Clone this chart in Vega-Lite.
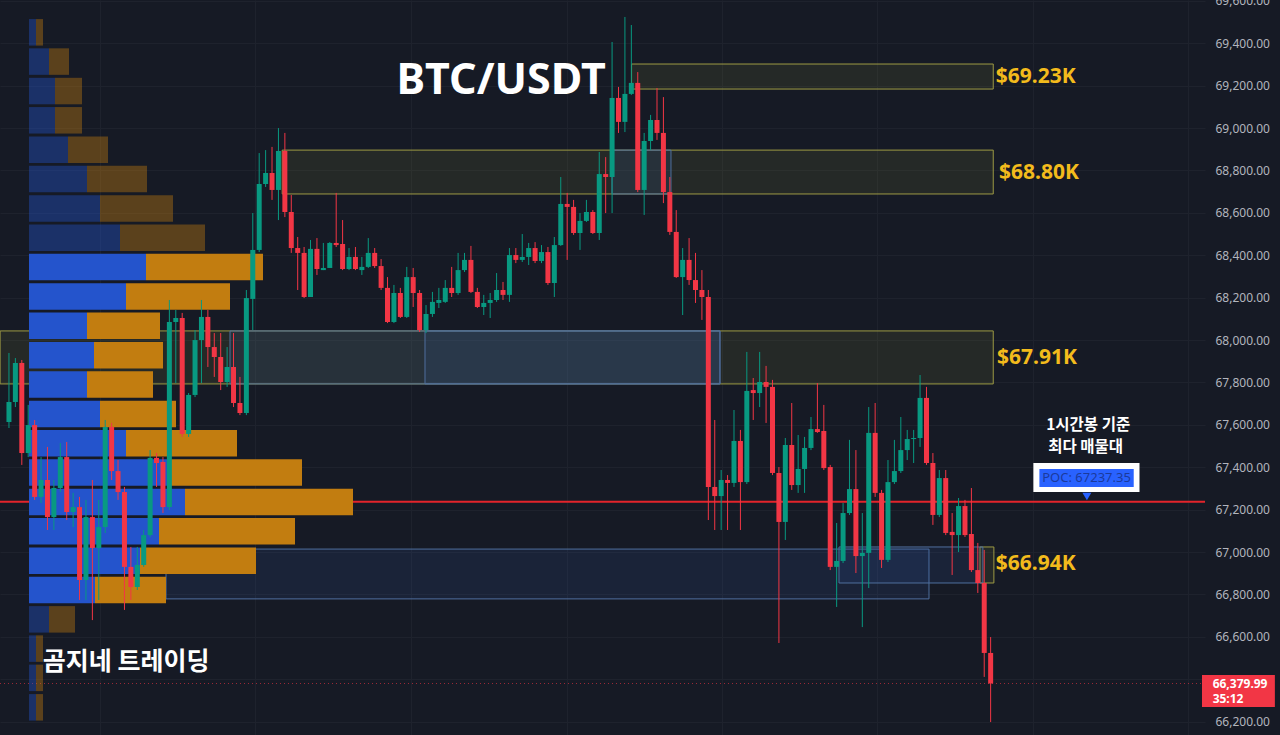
{
  "$schema": "https://vega.github.io/schema/vega-lite/v6.json",
  "width": 1205,
  "height": 735,
  "autosize": {"type": "none"},
  "padding": {"left": 0, "top": 0, "right": 75, "bottom": 0},
  "background": "#161a25",
  "config": {"view": {"stroke": null}, "axis": {"domain": false, "ticks": false, "title": null, "gridColor": "#1e222d"}},
  "datasets": {
    "candles": [
      {"i":0,"o":67613,"h":67939,"l":67585,"c":67708},{"i":1,"o":67708,"h":67915,"l":67684,"c":67892},{"i":2,"o":67892,"h":67906,"l":67411,"c":67467},{"i":3,"o":67467,"h":67694,"l":67448,"c":67599},{"i":4,"o":67599,"h":67623,"l":67246,"c":67260},{"i":5,"o":67260,"h":67448,"l":67231,"c":67340},{"i":6,"o":67340,"h":67496,"l":67104,"c":67165},{"i":7,"o":67165,"h":67340,"l":67104,"c":67302},{"i":8,"o":67302,"h":67514,"l":67283,"c":67448},{"i":9,"o":67448,"h":67519,"l":67151,"c":67189},
      {"i":10,"o":67189,"h":67279,"l":67118,"c":67212},{"i":11,"o":67212,"h":67260,"l":66774,"c":66868},{"i":12,"o":66868,"h":67246,"l":66774,"c":67165},{"i":13,"o":67165,"h":67340,"l":66679,"c":67019},{"i":14,"o":67019,"h":67246,"l":66774,"c":67118},{"i":15,"o":67118,"h":67623,"l":67090,"c":67590},{"i":16,"o":67590,"h":67609,"l":67340,"c":67382},{"i":17,"o":67382,"h":67434,"l":67246,"c":67283},{"i":18,"o":67283,"h":67307,"l":66727,"c":66930},{"i":19,"o":66930,"h":67024,"l":66774,"c":66835},
      {"i":20,"o":66835,"h":67024,"l":66821,"c":66939},{"i":21,"o":66939,"h":67104,"l":66930,"c":67080},{"i":22,"o":67080,"h":67481,"l":67071,"c":67444},{"i":23,"o":67444,"h":67467,"l":67307,"c":67420},{"i":24,"o":67425,"h":67448,"l":67184,"c":67212},{"i":25,"o":67212,"h":68189,"l":67198,"c":68085},{"i":26,"o":68085,"h":68142,"l":67797,"c":68104},{"i":27,"o":68104,"h":68128,"l":67543,"c":67557},{"i":28,"o":67557,"h":67750,"l":67543,"c":67741},{"i":29,"o":67741,"h":68047,"l":67731,"c":68000},
      {"i":30,"o":68000,"h":68189,"l":67797,"c":68109},{"i":31,"o":68109,"h":68142,"l":67873,"c":67967},{"i":32,"o":67967,"h":68033,"l":67826,"c":67920},{"i":33,"o":67920,"h":68033,"l":67764,"c":67802},{"i":34,"o":67802,"h":67967,"l":67779,"c":67873},{"i":35,"o":67873,"h":68033,"l":67684,"c":67703},{"i":36,"o":67703,"h":67826,"l":67646,"c":67656},{"i":37,"o":67656,"h":68236,"l":67646,"c":68198},{"i":38,"o":68194,"h":68599,"l":68047,"c":68425},{"i":39,"o":68425,"h":68882,"l":68415,"c":68736},
      {"i":40,"o":68736,"h":68896,"l":68722,"c":68788},{"i":41,"o":68788,"h":68911,"l":68661,"c":68708},{"i":42,"o":68708,"h":69000,"l":68566,"c":68892},{"i":43,"o":68892,"h":68977,"l":68580,"c":68604},{"i":44,"o":68604,"h":68684,"l":68411,"c":68434},{"i":45,"o":68434,"h":68486,"l":68236,"c":68411},{"i":46,"o":68411,"h":68439,"l":68198,"c":68203},{"i":47,"o":68203,"h":68472,"l":68203,"c":68430},{"i":48,"o":68430,"h":68481,"l":68307,"c":68335},{"i":49,"o":68330,"h":68458,"l":68330,"c":68340},
      {"i":50,"o":68340,"h":68462,"l":68340,"c":68458},{"i":51,"o":68458,"h":68694,"l":68439,"c":68448},{"i":52,"o":68453,"h":68566,"l":68330,"c":68335},{"i":53,"o":68335,"h":68434,"l":68330,"c":68392},{"i":54,"o":68392,"h":68439,"l":68330,"c":68335},{"i":55,"o":68330,"h":68392,"l":68307,"c":68345},{"i":56,"o":68345,"h":68481,"l":68340,"c":68411},{"i":57,"o":68411,"h":68434,"l":68340,"c":68349},{"i":58,"o":68349,"h":68382,"l":68236,"c":68246},{"i":59,"o":68246,"h":68297,"l":68080,"c":68085},
      {"i":60,"o":68085,"h":68260,"l":68080,"c":68222},{"i":61,"o":68222,"h":68246,"l":68104,"c":68109},{"i":62,"o":68109,"h":68345,"l":68104,"c":68297},{"i":63,"o":68297,"h":68340,"l":68156,"c":68222},{"i":64,"o":68222,"h":68236,"l":68038,"c":68047},{"i":65,"o":68047,"h":68165,"l":68033,"c":68123},{"i":66,"o":68123,"h":68227,"l":68109,"c":68180},{"i":67,"o":68175,"h":68246,"l":68151,"c":68189},{"i":68,"o":68180,"h":68283,"l":68175,"c":68246},{"i":69,"o":68246,"h":68345,"l":68203,"c":68222},
      {"i":70,"o":68222,"h":68411,"l":68213,"c":68330},{"i":71,"o":68330,"h":68411,"l":68321,"c":68378},{"i":72,"o":68378,"h":68444,"l":68222,"c":68227},{"i":73,"o":68227,"h":68246,"l":68151,"c":68156},{"i":74,"o":68156,"h":68213,"l":68118,"c":68175},{"i":75,"o":68175,"h":68222,"l":68104,"c":68189},{"i":76,"o":68189,"h":68316,"l":68180,"c":68236},{"i":77,"o":68236,"h":68274,"l":68189,"c":68213},{"i":78,"o":68213,"h":68434,"l":68180,"c":68401},{"i":79,"o":68401,"h":68434,"l":68363,"c":68378},
      {"i":80,"o":68378,"h":68500,"l":68368,"c":68392},{"i":81,"o":68392,"h":68458,"l":68354,"c":68434},{"i":82,"o":68434,"h":68462,"l":68363,"c":68373},{"i":83,"o":68373,"h":68448,"l":68363,"c":68415},{"i":84,"o":68415,"h":68439,"l":68260,"c":68269},{"i":85,"o":68269,"h":68486,"l":68203,"c":68448},{"i":86,"o":68448,"h":68769,"l":68444,"c":68642},{"i":87,"o":68642,"h":68694,"l":68378,"c":68628},{"i":88,"o":68628,"h":68661,"l":68496,"c":68505},{"i":89,"o":68505,"h":68599,"l":68425,"c":68562},
      {"i":90,"o":68562,"h":68661,"l":68557,"c":68604},{"i":91,"o":68604,"h":68613,"l":68500,"c":68505},{"i":92,"o":68505,"h":68887,"l":68472,"c":68783},{"i":93,"o":68783,"h":68863,"l":68599,"c":68769},{"i":94,"o":68769,"h":69406,"l":68599,"c":69142},{"i":95,"o":69142,"h":69194,"l":68977,"c":69029},{"i":96,"o":69029,"h":69524,"l":68981,"c":69161},{"i":97,"o":69161,"h":69486,"l":69156,"c":69213},{"i":98,"o":69213,"h":69264,"l":68698,"c":68708},{"i":99,"o":68708,"h":68977,"l":68590,"c":68939},
      {"i":100,"o":68939,"h":69062,"l":68896,"c":69038},{"i":101,"o":69038,"h":69189,"l":68944,"c":68977},{"i":102,"o":68977,"h":69146,"l":68646,"c":68698},{"i":103,"o":68698,"h":68769,"l":68496,"c":68510},{"i":104,"o":68510,"h":68613,"l":68293,"c":68297},{"i":105,"o":68297,"h":68434,"l":68118,"c":68378},{"i":106,"o":68378,"h":68481,"l":68260,"c":68283},{"i":107,"o":68283,"h":68411,"l":68175,"c":68236},{"i":108,"o":68236,"h":68330,"l":68095,"c":68203},{"i":109,"o":68203,"h":68236,"l":67151,"c":67307},
      {"i":110,"o":67307,"h":67623,"l":67104,"c":67264},{"i":111,"o":67264,"h":67387,"l":67104,"c":67340},{"i":112,"o":67340,"h":67363,"l":67104,"c":67326},{"i":113,"o":67326,"h":67670,"l":67307,"c":67524},{"i":114,"o":67524,"h":67576,"l":67104,"c":67330},{"i":115,"o":67330,"h":67944,"l":67321,"c":67760},{"i":116,"o":67764,"h":67821,"l":67623,"c":67750},{"i":117,"o":67750,"h":67944,"l":67684,"c":67802},{"i":118,"o":67802,"h":67878,"l":67609,"c":67779},{"i":119,"o":67779,"h":67812,"l":67363,"c":67373},
      {"i":120,"o":67373,"h":67401,"l":66571,"c":67142},{"i":121,"o":67142,"h":67538,"l":67057,"c":67505},{"i":122,"o":67505,"h":67703,"l":67293,"c":67316},{"i":123,"o":67316,"h":67552,"l":67279,"c":67392},{"i":124,"o":67392,"h":67543,"l":67279,"c":67491},{"i":125,"o":67491,"h":67637,"l":67481,"c":67580},{"i":126,"o":67580,"h":67797,"l":67562,"c":67566},{"i":127,"o":67571,"h":67694,"l":67387,"c":67396},{"i":128,"o":67401,"h":67411,"l":66915,"c":66930},{"i":129,"o":66930,"h":67137,"l":66741,"c":66958},
      {"i":130,"o":66958,"h":67231,"l":66948,"c":67184},{"i":131,"o":67184,"h":67529,"l":67175,"c":67297},{"i":132,"o":67297,"h":67481,"l":66901,"c":66981},{"i":133,"o":66981,"h":67184,"l":66646,"c":66996},{"i":134,"o":66996,"h":67684,"l":66830,"c":67562},{"i":135,"o":67562,"h":67703,"l":67260,"c":67279},{"i":136,"o":67279,"h":67293,"l":66925,"c":66963},{"i":137,"o":66963,"h":67434,"l":66953,"c":67330},{"i":138,"o":67330,"h":67529,"l":67321,"c":67382},{"i":139,"o":67382,"h":67637,"l":67373,"c":67481},
      {"i":140,"o":67481,"h":67576,"l":67434,"c":67533},{"i":141,"o":67533,"h":67576,"l":67420,"c":67538},{"i":142,"o":67538,"h":67835,"l":67496,"c":67727},{"i":143,"o":67727,"h":67779,"l":67411,"c":67420},{"i":144,"o":67420,"h":67467,"l":67128,"c":67175},{"i":145,"o":67175,"h":67387,"l":67165,"c":67349},{"i":146,"o":67349,"h":67387,"l":67080,"c":67090},{"i":147,"o":67095,"h":67184,"l":66892,"c":67080},{"i":148,"o":67080,"h":67255,"l":67000,"c":67217},{"i":149,"o":67217,"h":67246,"l":67071,"c":67080},
      {"i":150,"o":67085,"h":67302,"l":66906,"c":66915},{"i":151,"o":66915,"h":67043,"l":66807,"c":66854},{"i":152,"o":66854,"h":67010,"l":66411,"c":66524},{"i":153,"o":66524,"h":66599,"l":66198,"c":66379.99}
    ],
    "profile": [
      {"lo":69389,"hi":69514,"buy":7,"total":14,"va":false},
      {"lo":69251,"hi":69376,"buy":20,"total":40,"va":false},
      {"lo":69112,"hi":69237,"buy":26,"total":53,"va":false},
      {"lo":68974,"hi":69099,"buy":26,"total":53,"va":false},
      {"lo":68835,"hi":68960,"buy":39,"total":79,"va":false},
      {"lo":68697,"hi":68822,"buy":58,"total":118,"va":false},
      {"lo":68558,"hi":68683,"buy":71,"total":144,"va":false},
      {"lo":68420,"hi":68545,"buy":91,"total":176,"va":false},
      {"lo":68282,"hi":68407,"buy":117,"total":234,"va":true},
      {"lo":68143,"hi":68268,"buy":97,"total":201,"va":true},
      {"lo":68005,"hi":68130,"buy":58,"total":131,"va":true},
      {"lo":67866,"hi":67991,"buy":65,"total":134,"va":true},
      {"lo":67728,"hi":67853,"buy":58,"total":124,"va":true},
      {"lo":67589,"hi":67714,"buy":71,"total":147,"va":true},
      {"lo":67451,"hi":67576,"buy":97,"total":208,"va":true},
      {"lo":67313,"hi":67438,"buy":139,"total":273,"va":true},
      {"lo":67174,"hi":67299,"buy":156,"total":324,"va":true},
      {"lo":67036,"hi":67161,"buy":130,"total":266,"va":true},
      {"lo":66897,"hi":67022,"buy":111,"total":227,"va":true},
      {"lo":66759,"hi":66884,"buy":66,"total":137,"va":true},
      {"lo":66620,"hi":66745,"buy":20,"total":46,"va":false},
      {"lo":66482,"hi":66607,"buy":7,"total":14,"va":false},
      {"lo":66344,"hi":66469,"buy":7,"total":14,"va":false},
      {"lo":66205,"hi":66330,"buy":7,"total":14,"va":false}
    ],
    "levels": [
      {"x0":97,"x1":152.9,"top":69302,"bot":69184},
      {"x0":43,"x1":152.9,"top":68896,"bot":68689},
      {"x0":-0.6,"x1":152.9,"top":68043,"bot":67793},
      {"x0":150.85,"x1":153.0,"top":67024,"bot":66854}
    ],
    "boxes": [
      {"x0":34.93,"x1":110.66,"top":68043,"bot":67793},
      {"x0":65.07,"x1":110.66,"top":68043,"bot":67793},
      {"x0":25.04,"x1":142.97,"top":67014,"bot":66779},
      {"x0":129.06,"x1":151.3,"top":67024,"bot":66854},
      {"x0":93.97,"x1":103.09,"top":68896,"bot":68689}
    ],
    "levelLabels": [
      {"i":153.8,"p":69241,"t":"$69.23K"},
      {"i":154.3,"p":68788,"t":"$68.80K"},
      {"i":154.0,"p":67915,"t":"$67.91K"},
      {"i":153.8,"p":66944,"t":"$66.94K"}
    ]
  },
  "layer": [
    {
      "layer": [
        {
          "data": {"name": "levels"},
          "mark": {"type": "rect", "fill": "#b5b23a", "fillOpacity": 0.1, "stroke": "#9d9a44", "strokeWidth": 1},
          "encoding": {
            "x": {"field": "x0", "type": "quantitative", "scale": {"domain": [-0.618, 185.63], "nice": false, "zero": false},
                  "axis": {"values": [14.85, 38.85, 62.9, 87, 111, 135, 159, 183], "grid": true, "labels": false}},
            "x2": {"field": "x1"},
            "y": {"field": "top", "type": "quantitative", "scale": {"domain": [66137, 69604], "nice": false, "zero": false},
                  "axis": {"orient": "right", "values": [66200, 66400, 66600, 66800, 67000, 67200, 67400, 67600, 67800, 68000, 68200, 68400, 68600, 68800, 69000, 69200, 69400, 69600],
                           "format": ",.2f", "labelExpr": "datum.value == 66400 ? '' : datum.label", "grid": true,
                           "labelColor": "#b2b5be", "labelFontSize": 12, "labelFont": "Noto Sans", "labelPadding": 10}},
            "y2": {"field": "bot"}
          }
        },
        {
          "data": {"name": "boxes"},
          "mark": {"type": "rect", "fill": "#3a6bc4", "fillOpacity": 0.12, "stroke": "#4f6f9e", "strokeWidth": 1},
          "encoding": {
            "x": {"field": "x0", "type": "quantitative", "scale": {"domain": [-0.618, 185.63], "nice": false, "zero": false}},
            "x2": {"field": "x1"},
            "y": {"field": "top", "type": "quantitative", "scale": {"domain": [66137, 69604], "nice": false, "zero": false}},
            "y2": {"field": "bot"}
          }
        },
        {
          "data": {"values": [{"poc": 67237.35}]},
          "mark": {"type": "rule", "color": "#e3242b", "strokeWidth": 2},
          "encoding": {
            "y": {"field": "poc", "type": "quantitative", "scale": {"domain": [66137, 69604], "nice": false, "zero": false}}
          }
        },
        {
          "data": {"values": [{"last": 66379.99}]},
          "mark": {"type": "rule", "color": "#f23645", "strokeWidth": 1, "strokeDash": [1, 3], "opacity": 0.6},
          "encoding": {
            "y": {"field": "last", "type": "quantitative", "scale": {"domain": [66137, 69604], "nice": false, "zero": false}}
          }
        }
      ]
    },
    {
      "data": {"name": "profile"},
      "layer": [
        {
          "mark": {"type": "rect", "fill": "#2454cc"},
          "encoding": {
            "x": {"field": "buy", "type": "quantitative", "scale": {"domain": [-29, 1176], "nice": false, "zero": false}, "axis": null},
            "x2": {"datum": 0},
            "y": {"field": "lo", "type": "quantitative", "scale": {"domain": [66137, 69604], "nice": false, "zero": false}},
            "y2": {"field": "hi"},
            "opacity": {"condition": {"test": "datum.va", "value": 1}, "value": 0.4}
          }
        },
        {
          "mark": {"type": "rect", "fill": "#c27d10"},
          "encoding": {
            "x": {"field": "buy", "type": "quantitative", "scale": {"domain": [-29, 1176], "nice": false, "zero": false}, "axis": null},
            "x2": {"field": "total"},
            "y": {"field": "lo", "type": "quantitative", "scale": {"domain": [66137, 69604], "nice": false, "zero": false}},
            "y2": {"field": "hi"},
            "opacity": {"condition": {"test": "datum.va", "value": 1}, "value": 0.4}
          }
        }
      ]
    },
    {
      "layer": [
        {
          "data": {"name": "candles"},
          "mark": {"type": "rule", "strokeWidth": 1},
          "encoding": {
            "x": {"field": "i", "type": "quantitative", "scale": {"domain": [-0.618, 185.63], "nice": false, "zero": false}, "axis": null},
            "y": {"field": "l", "type": "quantitative", "scale": {"domain": [66137, 69604], "nice": false, "zero": false}},
            "y2": {"field": "h"},
            "color": {"condition": {"test": "datum.c >= datum.o", "value": "#089981"}, "value": "#f23645"}
          }
        },
        {
          "data": {"name": "candles"},
          "mark": {"type": "bar", "width": 5},
          "encoding": {
            "x": {"field": "i", "type": "quantitative", "scale": {"domain": [-0.618, 185.63], "nice": false, "zero": false}, "axis": null},
            "y": {"field": "o", "type": "quantitative", "scale": {"domain": [66137, 69604], "nice": false, "zero": false}},
            "y2": {"field": "c"},
            "color": {"condition": {"test": "datum.c >= datum.o", "value": "#089981"}, "value": "#f23645"}
          }
        },
        {
          "data": {"name": "levelLabels"},
          "mark": {"type": "text", "align": "left", "baseline": "middle", "font": "Noto Sans", "fontWeight": "bold", "fontSize": 21, "color": "#f3bb1c"},
          "encoding": {
            "x": {"field": "i", "type": "quantitative", "scale": {"domain": [-0.618, 185.63], "nice": false, "zero": false}, "axis": null},
            "y": {"field": "p", "type": "quantitative", "scale": {"domain": [66137, 69604], "nice": false, "zero": false}},
            "text": {"field": "t"}
          }
        },
        {
          "data": {"values": [{"i": 76.7, "p": 69222, "t": "BTC/USDT"}]},
          "mark": {"type": "text", "align": "center", "baseline": "middle", "font": "Noto Sans", "fontWeight": "bold", "fontSize": 43, "color": "#ffffff"},
          "encoding": {
            "x": {"field": "i", "type": "quantitative", "scale": {"domain": [-0.618, 185.63], "nice": false, "zero": false}, "axis": null},
            "y": {"field": "p", "type": "quantitative", "scale": {"domain": [66137, 69604], "nice": false, "zero": false}},
            "text": {"field": "t"}
          }
        },
        {
          "data": {"values": [{"i": 5.26, "p": 66481, "t": "곰지네 트레이딩"}]},
          "mark": {"type": "text", "align": "left", "baseline": "middle", "font": "Noto Sans CJK KR", "fontWeight": "bold", "fontSize": 25, "color": "#ffffff"},
          "encoding": {
            "x": {"field": "i", "type": "quantitative", "scale": {"domain": [-0.618, 185.63], "nice": false, "zero": false}, "axis": null},
            "y": {"field": "p", "type": "quantitative", "scale": {"domain": [66137, 69604], "nice": false, "zero": false}},
            "text": {"field": "t"}
          }
        },
        {
          "data": {"values": [{"i": 168.2, "p": 67599, "t": "1시간봉 기준"}, {"i": 167.8, "p": 67496, "t": "최다 매물대"}]},
          "mark": {"type": "text", "align": "center", "baseline": "middle", "font": "Noto Sans CJK KR", "fontWeight": "bold", "fontSize": 15.5, "color": "#ffffff"},
          "encoding": {
            "x": {"field": "i", "type": "quantitative", "scale": {"domain": [-0.618, 185.63], "nice": false, "zero": false}, "axis": null},
            "y": {"field": "p", "type": "quantitative", "scale": {"domain": [66137, 69604], "nice": false, "zero": false}},
            "text": {"field": "t"}
          }
        },
        {
          "data": {"values": [{"x0": 159.66, "x1": 176.2, "top": 67420, "bot": 67283}]},
          "mark": {"type": "rect", "fill": "#ffffff"},
          "encoding": {
            "x": {"field": "x0", "type": "quantitative", "scale": {"domain": [-0.618, 185.63], "nice": false, "zero": false}, "axis": null},
            "x2": {"field": "x1"},
            "y": {"field": "top", "type": "quantitative", "scale": {"domain": [66137, 69604], "nice": false, "zero": false}},
            "y2": {"field": "bot"}
          }
        },
        {
          "data": {"values": [{"x0": 160.6, "x1": 175.3, "top": 67392, "bot": 67307}]},
          "mark": {"type": "rect", "fill": "#2962ff"},
          "encoding": {
            "x": {"field": "x0", "type": "quantitative", "scale": {"domain": [-0.618, 185.63], "nice": false, "zero": false}, "axis": null},
            "x2": {"field": "x1"},
            "y": {"field": "top", "type": "quantitative", "scale": {"domain": [66137, 69604], "nice": false, "zero": false}},
            "y2": {"field": "bot"}
          }
        },
        {
          "data": {"values": [{"i": 167.95, "p": 67349, "t": "POC: 67237.35"}]},
          "mark": {"type": "text", "align": "center", "baseline": "middle", "font": "Noto Sans", "fontSize": 13, "color": "#1b3a9c"},
          "encoding": {
            "x": {"field": "i", "type": "quantitative", "scale": {"domain": [-0.618, 185.63], "nice": false, "zero": false}, "axis": null},
            "y": {"field": "p", "type": "quantitative", "scale": {"domain": [66137, 69604], "nice": false, "zero": false}},
            "text": {"field": "t"}
          }
        },
        {
          "data": {"values": [{"i": 168.0, "p": 67262}]},
          "mark": {"type": "point", "shape": "triangle-down", "filled": true, "size": 80, "color": "#2962ff", "opacity": 1},
          "encoding": {
            "x": {"field": "i", "type": "quantitative", "scale": {"domain": [-0.618, 185.63], "nice": false, "zero": false}, "axis": null},
            "y": {"field": "p", "type": "quantitative", "scale": {"domain": [66137, 69604], "nice": false, "zero": false}}
          }
        },
        {
          "data": {"values": [{"x0": 185.94, "x1": 197.3, "top": 66420, "bot": 66269}]},
          "mark": {"type": "rect", "fill": "#f23645"},
          "encoding": {
            "x": {"field": "x0", "type": "quantitative", "scale": {"domain": [-0.618, 185.63], "nice": false, "zero": false}, "axis": null},
            "x2": {"field": "x1"},
            "y": {"field": "top", "type": "quantitative", "scale": {"domain": [66137, 69604], "nice": false, "zero": false}},
            "y2": {"field": "bot"}
          }
        },
        {
          "data": {"values": [{"i": 187.6, "p": 66376, "t": "66,379.99"}, {"i": 187.6, "p": 66307, "t": "35:12"}]},
          "mark": {"type": "text", "align": "left", "baseline": "middle", "font": "Noto Sans", "fontWeight": "bold", "fontSize": 12, "color": "#ffffff"},
          "encoding": {
            "x": {"field": "i", "type": "quantitative", "scale": {"domain": [-0.618, 185.63], "nice": false, "zero": false}, "axis": null},
            "y": {"field": "p", "type": "quantitative", "scale": {"domain": [66137, 69604], "nice": false, "zero": false}},
            "text": {"field": "t"}
          }
        }
      ]
    }
  ],
  "resolve": {"scale": {"x": "independent"}}
}
